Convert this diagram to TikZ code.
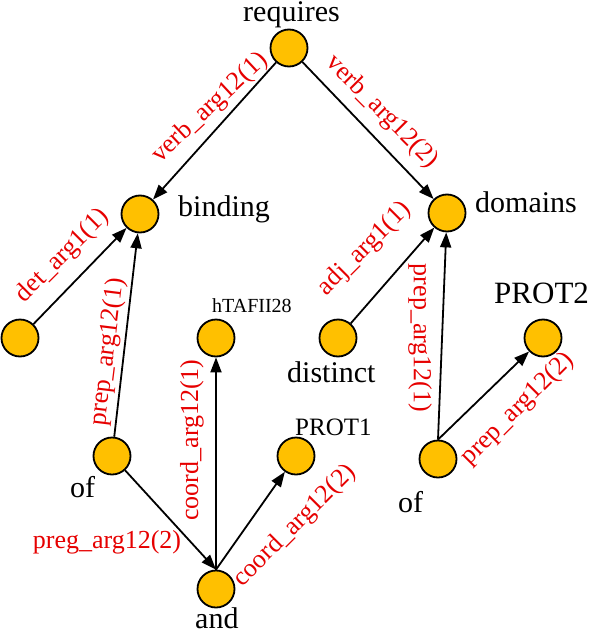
\documentclass[tikz,border=0pt]{standalone}
\usepackage{fontspec}
\setmainfont{Liberation Serif}
\usetikzlibrary{arrows.meta}
\definecolor{nodefill}{RGB}{255,192,0}
\definecolor{lblred}{RGB}{230,0,0}
\begin{document}
\begin{tikzpicture}[x=1pt,y=-1pt,
  tok/.style={circle,draw,line width=1.8pt,fill=nodefill,minimum size=37pt,inner sep=0pt},
  word/.style={font=\fontsize{30}{30}\selectfont,inner sep=0pt,anchor=base west},
  smallword/.style={word,font=\fontsize{25}{25}\selectfont},
  tinyword/.style={word,font=\fontsize{20}{20}\selectfont},
  rel/.style={font=\fontsize{26}{26}\selectfont,text=lblred,inner sep=0pt},
  arr/.style={line width=1.8pt,-{Triangle[length=15pt,width=11pt]}},
]
\useasboundingbox (0,0) rectangle (592,634);
% tokens
\node[tok] (req) at (289,48) {};
\node[tok] (bind) at (140,214) {};
\node[tok] (dom) at (447,213) {};
\node[tok] (det) at (20,338) {};
\node[tok] (of1) at (112,456) {};
\node[tok] (htaf) at (216,338) {};
\node[tok] (prot1) at (296,456) {};
\node[tok] (and) at (216,589) {};
\node[tok] (dist) at (338,338) {};
\node[tok] (prot2) at (543,338) {};
\node[tok] (of2) at (438,459) {};
% words
\node[word] (wreq) at (243,22) {requires};
\node[word] (wbind) at (178,216) {binding};
\node[word] (wdom) at (475,212) {domains};
\node[tinyword] (whtaf) at (212,312) {hTAFII28};
\node[smallword] (wprot1) at (295,435) {PROT1};
\node[word,font=\fontsize{31}{31}\selectfont] (wprot2) at (494,303) {PROT2};
\node[word] (wdist) at (287,382) {distinct};
\node[word] (wof1) at (70,497) {of};
\node[word] (wand) at (195,628) {and};
\node[word] (wof2) at (398,512) {of};
% edges
\draw[arr] (req) -- (bind);
\draw[arr] (req) -- (dom);
\draw[arr] (det) -- (bind);
\draw[arr] (of1) -- (bind);
\draw[arr] (of1) -- (and.north);
\draw[arr] (and.north) -- (htaf);
\draw[arr] (and.north) -- (prot1);
\draw[arr] (dist) -- (dom);
\draw[arr] (of2.north) -- (dom);
\draw[arr] (of2.north) -- (prot2);
% edge labels
\node[rel,rotate=43] (l1) at (210,108) {verb\_arg12(1)};
\node[rel,rotate=-45] (l2) at (382,112) {verb\_arg12(2)};
\node[rel,rotate=45] (l3) at (63,256) {det\_arg1(1)};
\node[rel,rotate=83] (l4) at (108,352) {prep\_arg12(1)};
\node[rel] (l5) at (107,542) {preg\_arg12(2)};
\node[rel,rotate=90] (l6) at (192,440) {coord\_arg12(1)};
\node[rel,rotate=45] (l7) at (295,526) {coord\_arg12(2)};
\node[rel,rotate=45] (l8) at (365,249) {adj\_arg1(1)};
\node[rel,rotate=-90] (l9) at (420,338) {prep\_arg12(1)};
\node[rel,rotate=45] (l10) at (518,409) {prep\_arg12(2)};
\end{tikzpicture}
\end{document}
